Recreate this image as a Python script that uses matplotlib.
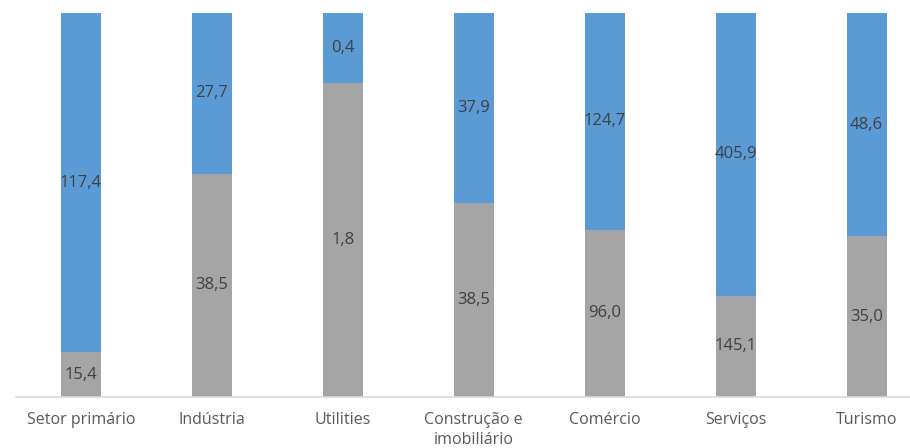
import numpy as np
import matplotlib.pyplot as plt

plt.rcParams['font.family'] = ['Open Sans', 'DejaVu Sans']

categories = ["Setor primário", "Indústria", "Utilities", "Construção e\nimobiliário",
              "Comércio", "Serviços", "Turismo"]
grey_vals = [15.4, 38.5, 1.8, 38.5, 96.0, 145.1, 35.0]
blue_vals = [117.4, 27.7, 0.4, 37.9, 124.7, 405.9, 48.6]

grey = np.array(grey_vals)
blue = np.array(blue_vals)
total = grey + blue
grey_pct = grey / total * 100
blue_pct = blue / total * 100

fig = plt.figure(figsize=(9.1, 4.48), dpi=100)
ax = fig.add_axes([15.5 / 910, 1 - 397 / 448, (932 - 15.5) / 910, (397 - 13) / 448])

x = np.arange(len(categories))
w = 0.305
ax.bar(x, grey_pct, width=w, color='#A5A5A5', linewidth=0)
ax.bar(x, blue_pct, width=w, bottom=grey_pct, color='#5B9BD5', linewidth=0)

# value labels centred in each segment
for i in range(len(x)):
    ax.text(x[i], grey_pct[i] / 2, f"{grey_vals[i]:.1f}".replace('.', ','),
            ha='center', va='center', fontsize=12, color='#404040')
    ax.text(x[i], grey_pct[i] + blue_pct[i] / 2, f"{blue_vals[i]:.1f}".replace('.', ','),
            ha='center', va='center', fontsize=12, color='#404040')

ax.set_xlim(-0.5, 6.5)
ax.set_ylim(0, 100)
ax.set_xticks(x)
ax.set_xticklabels(categories, fontsize=11.5, color='#595959', linespacing=1.35)
ax.tick_params(axis='x', length=0, pad=11)
ax.set_yticks([])
for s in ['top', 'right', 'left']:
    ax.spines[s].set_visible(False)
ax.spines['bottom'].set_color('#D9D9D9')
ax.spines['bottom'].set_linewidth(1.2)

fig.savefig("out.png", dpi=100)
